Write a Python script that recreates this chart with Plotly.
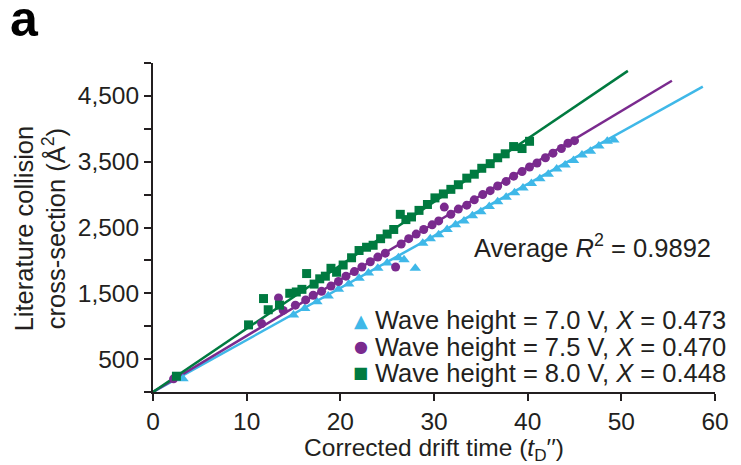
import plotly.graph_objects as go

# ---- data ----
green_x = [2.5, 10.2, 11.8, 12.3, 13.5, 14.6, 15.3, 15.9, 16.4, 17.2, 17.8, 18.4, 19.0, 19.6, 20.3,
           21.2, 22.0, 22.8, 23.5, 24.3, 25.0, 25.7, 26.4, 27.0, 27.6, 28.4, 29.3, 30.1, 31.0, 31.8,
           32.6, 33.5, 34.3, 35.1, 36.0, 36.8, 37.6, 38.5, 39.4, 40.2]
green_y = [240, 1020, 1420, 1250, 1320, 1500, 1520, 1560, 1800, 1640, 1720, 1760, 1880, 1820, 1930,
           2040, 2150, 2200, 2230, 2330, 2400, 2470, 2700, 2620, 2660, 2760, 2850, 2950, 3010, 3080,
           3150, 3250, 3310, 3400, 3470, 3560, 3620, 3730, 3700, 3810]

purple_x = [2.2, 11.6, 13.4, 13.9, 15.2, 16.3, 17.1, 18.0, 19.0, 19.8, 20.6, 21.5, 22.3, 23.2, 24.0,
            24.8, 25.9, 26.5, 27.3, 28.1, 28.9, 29.8, 30.5, 31.1, 31.8, 32.6, 33.5, 34.3, 35.2, 36.0,
            36.8, 37.7, 38.5, 39.4, 40.2, 41.0, 41.9, 42.7, 43.6, 44.3, 45.0]
purple_y = [200, 1040, 1430, 1240, 1320, 1400, 1470, 1530, 1610, 1680, 1760, 1830, 1900, 1980, 2050,
            2110, 1900, 2250, 2330, 2400, 2470, 2540, 2600, 2810, 2700, 2780, 2840, 2920, 3000, 3060,
            3130, 3200, 3280, 3350, 3420, 3480, 3560, 3630, 3700, 3780, 3820]

blue_x = [3.2, 15.0, 16.2, 17.5, 18.7, 19.8, 20.9, 22.0, 23.0, 24.0, 25.0, 26.2, 26.8, 28.0, 28.8,
          29.6, 30.5, 31.4, 32.3, 33.2, 34.1, 35.0, 35.9, 36.8, 37.7, 38.6, 39.5, 40.4, 41.3, 42.2,
          43.1, 44.0, 44.9, 45.8, 46.7, 47.6, 48.5, 49.2]
blue_y = [200, 1170, 1270, 1370, 1460, 1560, 1640, 1730, 1810, 1880, 1960, 2040, 2010, 1880, 2260,
          2330, 2390, 2470, 2540, 2600, 2680, 2740, 2820, 2890, 2960, 3030, 3100, 3170, 3240, 3310,
          3390, 3450, 3520, 3600, 3660, 3740, 3810, 3830]

# fitted lines (start at origin, end points)
fit_end_x = {"blue": 58.7, "purple": 55.4, "green": 50.7}
fit_end_y = {"blue": 4640, "purple": 4730, "green": 4880}

legend_labels = ["Wave height = 7.0 V, <i>X</i> = 0.473",
                 "Wave height = 7.5 V, <i>X</i> = 0.470",
                 "Wave height = 8.0 V, <i>X</i> = 0.448"]
legend_symbols = ["▲", "●", "■"]
legend_symbol_sizes = [18, 16, 16]
legend_keys = ["blue", "purple", "green"]

y_title_lines = ["Literature collision", "cross-section (Å<sup>2</sup>)"]

y_tickvals = [0, 500, 1000, 1500, 2000, 2500, 3000, 3500, 4000, 4500, 5000]
y_ticktext = ["", "500", "", "1,500", "", "2,500", "", "3,500", "", "4,500", ""]
x_tickvals = [0, 10, 20, 30, 40, 50, 60]

colors = {"blue": "#3fb8e8", "purple": "#7a2a8e", "green": "#007a40"}
TXT = "#231f20"
FONT = "Liberation Sans, Arial, sans-serif"
FS = 24.5
FS_ANN = 25.5

fig = go.Figure()

for key in ["blue", "purple", "green"]:
    fig.add_trace(go.Scatter(x=[0, fit_end_x[key]], y=[0, fit_end_y[key]], mode="lines",
                             line=dict(color=colors[key], width=2.5), showlegend=False,
                             hoverinfo="skip"))

fig.add_trace(go.Scatter(x=blue_x, y=blue_y, mode="markers", name=legend_labels[0],
                         marker=dict(symbol="triangle-up", size=10, color=colors["blue"])))
fig.add_trace(go.Scatter(x=purple_x, y=purple_y, mode="markers", name=legend_labels[1],
                         marker=dict(symbol="circle", size=9, color=colors["purple"])))
fig.add_trace(go.Scatter(x=green_x, y=green_y, mode="markers", name=legend_labels[2],
                         marker=dict(symbol="square", size=9, color=colors["green"])))

fig.update_layout(
    width=741, height=465,
    margin=dict(l=153, r=26, t=63, b=71),
    paper_bgcolor="white", plot_bgcolor="white",
    font=dict(family=FONT, size=FS, color=TXT),
    showlegend=False,
    xaxis=dict(range=[0, 60], tickvals=x_tickvals, showline=True, linecolor=TXT, linewidth=2,
               ticks="outside", ticklen=7, tickwidth=2, tickcolor=TXT, showgrid=False,
               zeroline=False, tickfont=dict(size=FS),
               title=dict(text="Corrected drift time (<i>t</i><sub>D</sub>′′)", standoff=0,
                          font=dict(size=FS))),
    yaxis=dict(range=[0, 5000], tickvals=y_tickvals, ticktext=y_ticktext, showline=True,
               linecolor=TXT, linewidth=2, ticks="outside", ticklen=7, tickwidth=2,
               tickcolor=TXT, showgrid=False, zeroline=False, tickfont=dict(size=FS)),
)

# y-axis title as two rotated lines (tight leading as in the original)
for txt, xp in zip(y_title_lines, [-0.228, -0.175]):
    fig.add_annotation(text=txt, xref="paper", yref="paper", x=xp, y=0.497,
                       xanchor="center", yanchor="middle", textangle=-90, showarrow=False,
                       font=dict(size=FS_ANN, color=TXT))

# legend drawn as symbol + text rows
leg_y = [0.218, 0.137, 0.058]
for sym, ssz, key, lab, yy in zip(legend_symbols, legend_symbol_sizes, legend_keys,
                                   legend_labels, leg_y):
    fig.add_annotation(text=sym, xref="paper", yref="paper", x=0.370, y=yy,
                       xanchor="center", yanchor="middle", showarrow=False,
                       font=dict(size=ssz, color=colors[key], family="DejaVu Sans"))
    fig.add_annotation(text=lab, xref="paper", yref="paper", x=0.392, y=yy,
                       xanchor="left", yanchor="middle", showarrow=False,
                       font=dict(size=FS_ANN, color=TXT))

fig.add_annotation(text="Average <i>R</i><sup>2</sup> = 0.9892", xref="paper", yref="paper",
                   x=0.997, y=0.445, xanchor="right", yanchor="middle", showarrow=False,
                   font=dict(size=FS_ANN, color=TXT))
fig.add_annotation(text="<b>a</b>", xref="paper", yref="paper", x=-0.258, y=1.133,
                   xanchor="left", yanchor="middle", showarrow=False,
                   font=dict(size=50, color="black", family=FONT))

fig.write_html("out.html")
